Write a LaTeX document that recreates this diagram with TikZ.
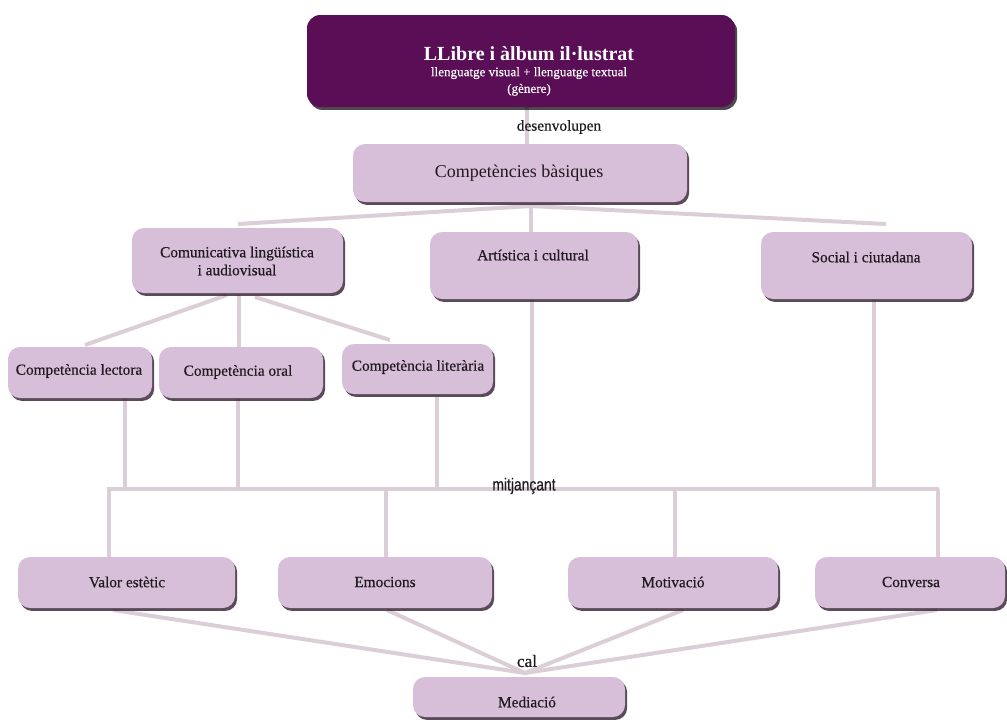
\documentclass[tikz,border=0pt]{standalone}
\usepackage{fontspec}
\setmainfont{Liberation Serif}
\newfontfamily\semib[FakeBold=0.45]{Liberation Serif}
\newfontfamily\narrowsans[FakeStretch=0.8,FakeBold=0.3]{Liberation Sans}
\usetikzlibrary{shadows}
\pgfdeclarelayer{bg}
\pgfdeclarelayer{wires}
\pgfsetlayers{bg,wires,main}
\definecolor{lilac}{HTML}{D8BFD9}
\definecolor{plum}{HTML}{5A0E56}
\definecolor{shade}{HTML}{3E2B3E}
\definecolor{wire}{HTML}{DCCED6}
\definecolor{ink}{HTML}{1E1A1E}
\tikzset{
  pbox/.style={rounded corners=9pt, fill=lilac, draw=none,
    drop shadow={shadow xshift=1.6pt, shadow yshift=-2.2pt, fill=shade, opacity=0.85}},
  dbox/.style={rounded corners=10pt, fill=plum, draw=none,
    drop shadow={shadow xshift=1.6pt, shadow yshift=-2.2pt, fill=black, opacity=0.7}},
  txt/.style={text=ink, font=\semib\fontsize{11.5}{13.5}\selectfont, inner sep=0pt, align=center},
  lbl/.style={text=ink, font=\semib\fontsize{11.5}{13}\selectfont, inner sep=0pt},
  wireline/.style={draw=wire, line width=3pt}
}
\newcommand\mybox[6]{% style, name, x1, y1, x2, y2
  \node[#1, minimum width={(#5-#3)*0.75pt}, minimum height={(#6-#4)*0.75pt}, inner sep=0pt]
    (#2) at ({(#3+#5)/2},{(#4+#6)/2}) {};}
\begin{document}
\begin{tikzpicture}[x=0.75pt,y=-0.75pt]
\begin{pgfonlayer}{bg}
\fill[white] (0,0) rectangle (1007,719);
\end{pgfonlayer}
\useasboundingbox (0,0) rectangle (1007,719);

% ---- junction coordinates ----
\coordinate (a1) at (531,206);
\coordinate (e1) at (238,224);
\coordinate (e2) at (531,232);
\coordinate (e3) at (886,224);
\coordinate (s1) at (227,295);
\coordinate (s2) at (239,295);
\coordinate (s3) at (255,297);
\coordinate (f1) at (85,345);
\coordinate (f2) at (239,347);
\coordinate (f3) at (390,340);
\coordinate (bl) at (107,489);
\coordinate (br) at (939,489);
\coordinate (u1) at (125,489);
\coordinate (u2) at (238,489);
\coordinate (u3) at (437,489);
\coordinate (u4) at (532,489);
\coordinate (u5) at (874,489);
\coordinate (d1) at (109,489);
\coordinate (d2) at (386,489);
\coordinate (d3) at (675,489);
\coordinate (d4) at (938,489);
\coordinate (m0) at (525,673);
\coordinate (g1) at (113,610);
\coordinate (g2) at (387,610);
\coordinate (g3) at (683,610);
\coordinate (g4) at (937,610);

% boxes
\mybox{dbox}{top}{307}{15}{735}{107}
\mybox{pbox}{cb}{353}{144}{687}{202}
\mybox{pbox}{com}{132}{228}{343}{293}
\mybox{pbox}{art}{430}{232}{638}{299}
\mybox{pbox}{soc}{761}{232}{972}{299}
\mybox{pbox}{lec}{8}{347}{152}{398}
\mybox{pbox}{ora}{159}{347}{323}{398}
\mybox{pbox}{lit}{342}{344}{493}{394}
\mybox{pbox}{val}{18}{557}{235}{608}
\mybox{pbox}{emo}{278}{557}{492}{608}
\mybox{pbox}{mot}{568}{557}{778}{608}
\mybox{pbox}{con}{815}{557}{1005}{608}
\mybox{pbox}{med}{413}{677}{625}{717}

\begin{pgfonlayer}{wires}
\begin{scope}[wireline]
  \draw (top.south -| 527,0) -- (cb.north -| 527,0);
  \draw (e1) -- (a1) -- (e3);
  \draw (a1) -- (e2);
  \draw (f1) -- (s1);
  \draw (s2) -- (f2);
  \draw (s3) -- (f3);
  \draw (lec.south -| u1) -- (u1);
  \draw (ora.south -| u2) -- (u2);
  \draw ([yshift=-2]lit.south -| u3) -- (u3);
  \draw (art.south -| u4) -- (u4);
  \draw (soc.south -| u5) -- (u5);
  \draw (bl) -- (br);
  \draw (d1) -- (val.north -| d1);
  \draw (d2) -- (emo.north -| d2);
  \draw (d3) -- (mot.north -| d3);
  \draw (d4) -- (con.north -| d4);
  \draw (g1) -- (m0) -- (g4);
  \draw (g2) -- (m0) -- (g3);
\end{scope}
\end{pgfonlayer}

% texts
\node[txt, text=white, font=\rmfamily] (ttop) at (529,71) {{\fontsize{15}{17}\selectfont\bfseries LLibre i àlbum il·lustrat}\\[0pt]
  {\semib\fontsize{9.8}{12}\selectfont llenguatge visual + llenguatge textual}\\[0.5pt]
  {\semib\fontsize{9.8}{12}\selectfont (gènere)}};
\node[lbl] (tdes) at (559,127) {desenvolupen};
\node[txt, font=\rmfamily\fontsize{13.5}{15}\selectfont] (tcb) at (519,173) {Competències bàsiques};
\node[txt] (tcom) at (237,261) {Comunicativa lingüística\\i audiovisual};
\node[txt] (tart) at (533,255) {Artística i cultural};
\node[txt] (tsoc) at (866,257) {Social i ciutadana};
\node[txt] (tlec) at (79,371) {Competència lectora};
\node[txt] (tora) at (238,372) {Competència oral};
\node[txt] (tlit) at (418,367) {Competència literària};
\node[lbl, font=\narrowsans\fontsize{13}{14}\selectfont] (tmit) at (524,486) {mitjançant};
\node[txt] (tval) at (127,582) {Valor estètic};
\node[txt] (temo) at (385,582) {Emocions};
\node[txt] (tmot) at (673,582) {Motivació};
\node[txt] (tcon) at (911,582) {Conversa};
\node[lbl, font=\semib\fontsize{13}{14}\selectfont] (tcal) at (527,661) {cal};
\node[txt] (tmed) at (527,702) {Mediació};
\end{tikzpicture}
\end{document}
